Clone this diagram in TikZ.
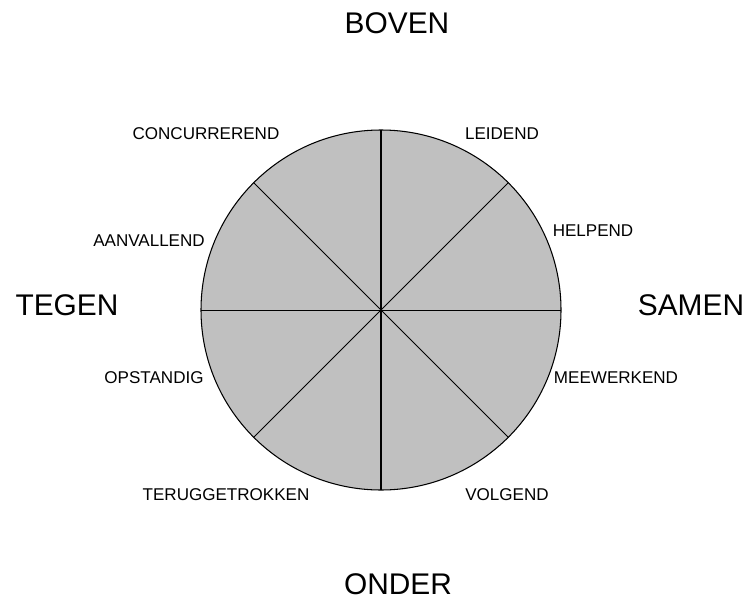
\documentclass[tikz,border=0pt]{standalone}
\usepackage{fontspec}
\setmainfont{Liberation Sans}
\usetikzlibrary{calc}
\definecolor{RoseGray}{HTML}{C0C0C0}

\begin{document}
\begin{tikzpicture}[x=0.02cm,y=-0.02cm,
      pole/.style={font=\fontsize{17}{20}\selectfont,inner sep=0pt},
      sector/.style={font=\fontsize{9.7}{11}\selectfont,inner sep=0pt},
      spoke/.style={black,line width=0.55pt}]
      \useasboundingbox (0,0) rectangle (747,598);
      \coordinate (c) at (381,310);
      \filldraw[fill=RoseGray,draw=black,line width=0.6pt] (c) circle[radius=180];
      \coordinate (top) at ($(c)+(0,-180)$);
      \coordinate (bot) at ($(c)+(0,180)$);
      \coordinate (lft) at ($(c)+(-180,0)$);
      \coordinate (rgt) at ($(c)+(180,0)$);
      \coordinate (ul) at ($(c)+(135:180)$);
      \coordinate (ur) at ($(c)+(45:180)$);
      \coordinate (ll) at ($(c)+(225:180)$);
      \coordinate (lr) at ($(c)+(315:180)$);
      \draw[spoke] (lft)--(rgt);
      \draw[spoke] (ul)--(lr);
      \draw[spoke] (ur)--(ll);
      \draw[spoke,line width=1.15pt] (top)--(bot);
      % hoofdassen
      \node[pole] (boven) at (397,23) {BOVEN};
      \node[pole] (onder) at (398,584) {ONDER};
      \node[pole] (tegen) at (67,305) {TEGEN};
      \node[pole] (samen) at (691,305) {SAMEN};
      % sectoren
      \node[sector] (conc) at (206,134) {CONCURREREND};
      \node[sector] (leid) at (502,134) {LEIDEND};
      \node[sector] (help) at (593,231) {HELPEND};
      \node[sector] (aanv) at (149,241) {AANVALLEND};
      \node[sector] (opst) at (154,378) {OPSTANDIG};
      \node[sector] (meew) at (616,378) {MEEWERKEND};
      \node[sector] (teru) at (226,495) {TERUGGETROKKEN};
      \node[sector] (volg) at (507,495) {VOLGEND};
    \end{tikzpicture}
\end{document}
